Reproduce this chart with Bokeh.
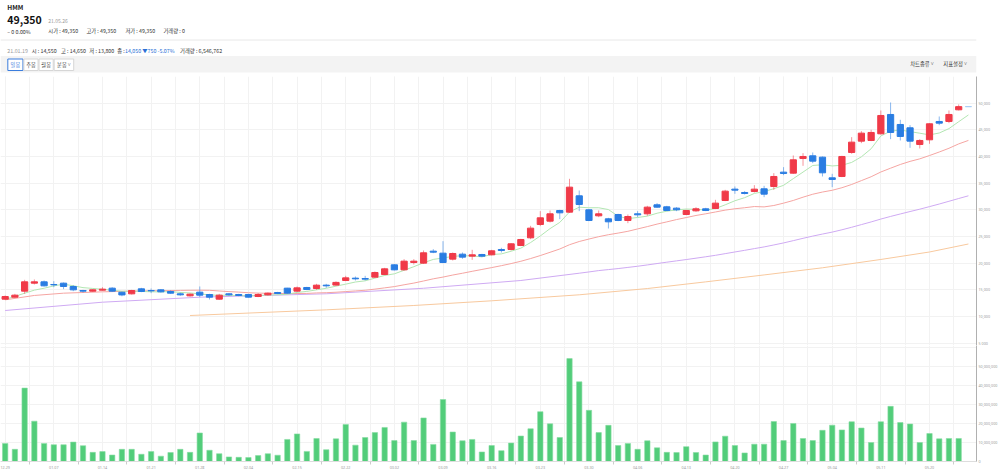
from bokeh.plotting import figure
from bokeh.layouts import column
from bokeh.models import Range1d, FixedTicker, NumeralTickFormatter, Label, Grid
from bokeh.embed import file_html
from bokeh.resources import INLINE
from bokeh.core.properties import value

# ---------------- data ----------------
opens = [13256, 13631, 14756, 16256, 16506, 16006, 16256, 15631, 14881, 14756,
         14944, 15319, 14550, 14256, 15194, 14881, 15006, 14694, 14256, 13881,
         14569, 14131, 13256, 14256, 14131, 14131, 13756, 14069, 14506, 15319,
         14756, 15444, 15256, 15881, 15900, 16756, 17194, 17131, 17381, 17881,
         19694, 18756, 20131, 20006, 22256, 21881, 20756, 21694, 21319, 21631,
         21569, 22569, 22569, 23319, 24756, 27256, 27881, 29881, 29569, 32631,
         30006, 28881, 28319, 29131, 28006, 29256, 29256, 30944, 30569, 30319,
         29131, 29819, 30194, 30256, 31756, 33881, 33256, 33444, 33944, 34381,
         37069, 36881, 39631, 40131, 39881, 36006, 36256, 40756, 42881, 43006,
         44256, 47881, 46006, 45381, 42256, 43131, 46569, 46569, 48756, 49350]
highs = [13944, 14256, 16881, 16944, 16756, 16631, 16381, 15881, 15006, 15131,
         15506, 15506, 14650, 15006, 15381, 15256, 15131, 14881, 14506, 14319,
         15631, 14256, 14256, 14381, 14256, 14256, 14381, 14506, 14631, 15381,
         15631, 15569, 16131, 16131, 16600, 17631, 17506, 17631, 18444, 19131,
         19819, 20756, 20756, 22381, 22631, 24131, 22006, 22006, 22506, 21756,
         22506, 22881, 23756, 24569, 27006, 29756, 29881, 30006, 35819, 33631,
         30131, 29881, 28506, 29256, 29131, 29756, 30756, 31256, 30756, 30506,
         30006, 30506, 30381, 31881, 33756, 34381, 33506, 34631, 34506, 36881,
         38006, 40194, 40631, 40756, 40006, 36756, 40131, 43631, 44756, 45006,
         48631, 50131, 46881, 45881, 43256, 46256, 47506, 48631, 49756, 49350]
lows = [13131, 13506, 14256, 16006, 15631, 15506, 15131, 14756, 14506, 14631,
        14881, 14631, 13800, 14131, 14569, 14381, 14506, 14256, 13881, 13756,
        13631, 13194, 13131, 13881, 13819, 13569, 13631, 13944, 14194, 14256,
        14631, 14944, 15006, 15381, 15800, 16631, 16756, 16756, 17256, 17756,
        18631, 18631, 19756, 19881, 21881, 20006, 20506, 20819, 20631, 21131,
        21444, 22006, 22381, 23194, 24506, 26944, 27631, 28256, 29444, 29756,
        27881, 28631, 26506, 27881, 27506, 28631, 28881, 30381, 29756, 29756,
        29006, 29631, 29756, 30131, 31631, 33006, 32881, 33256, 32381, 33756,
        36506, 36756, 38256, 38756, 36256, 34256, 36131, 40506, 42506, 42881,
        44131, 43256, 43006, 41631, 41506, 42381, 45881, 46256, 48631, 49350]
closes = [13756, 14006, 16506, 16506, 15756, 15944, 15631, 15006, 14756, 15006,
          15131, 14756, 14050, 14881, 14694, 14819, 14631, 14381, 14069, 14194,
          14006, 13631, 14006, 14069, 13944, 13631, 14131, 14381, 14319, 14381,
          15381, 15069, 15881, 15756, 16400, 17256, 17069, 17006, 18256, 18944,
          18756, 20381, 20381, 21944, 22069, 20131, 21819, 21131, 21569, 21319,
          22319, 22381, 23631, 24444, 26569, 28506, 29256, 29444, 34256, 31006,
          28006, 29256, 27756, 28006, 28756, 29069, 30506, 30506, 29881, 30006,
          29881, 30194, 29881, 31256, 33506, 33694, 33069, 33881, 32944, 36256,
          36819, 39381, 40006, 39131, 36944, 35694, 40006, 42694, 44381, 44506,
          47694, 44506, 43756, 42881, 43006, 46131, 46256, 47881, 49350, 49350]
volume_m = [9.5, 6.4, 38.6, 21.2, 9.5, 8.8, 8.8, 10.2, 8.3, 4.8,
            5.2, 3.4, 6.4, 6.4, 3.8, 5.2, 2.8, 4.7, 6.4, 4.8,
            15.0, 5.9, 4.1, 2.4, 2.2, 2.1, 3.1, 4.1, 3.3, 11.6,
            14.5, 5.3, 12.1, 6.2, 11.9, 19.5, 8.6, 12.6, 15.2, 17.9,
            11.0, 20.7, 11.0, 22.9, 9.0, 32.6, 15.5, 10.9, 11.6, 5.0,
            8.4, 5.7, 9.7, 13.4, 17.2, 26.2, 19.8, 12.6, 54.1, 41.9,
            26.9, 15.2, 19.0, 8.4, 9.5, 6.4, 10.9, 7.2, 4.8, 4.7,
            7.8, 4.7, 3.4, 10.3, 13.3, 8.4, 4.5, 9.1, 9.1, 21.0,
            11.0, 20.0, 12.1, 11.0, 16.4, 19.1, 16.6, 20.9, 17.6, 10.0,
            20.9, 29.0, 20.5, 19.7, 10.0, 14.7, 11.9, 12.1, 12.1, 0.0]

ma5 = [13194, 13780, 14370, 14950, 15306, 15744, 16069, 15769, 15419, 15269,
       15106, 14931, 14740, 14765, 14702, 14640, 14615, 14681, 14519, 14419,
       14256, 14056, 13981, 13981, 13931, 13856, 13956, 14031, 14081, 14169,
       14519, 14706, 15006, 15294, 15697, 16072, 16472, 16697, 17197, 17706,
       18006, 18669, 19344, 20081, 20706, 20981, 21269, 21419, 21344, 21194,
       21631, 21744, 22244, 22819, 23869, 25106, 26481, 27644, 29606, 30494,
       30394, 30394, 30056, 28806, 28356, 28569, 28819, 29369, 29744, 29994,
       30156, 30094, 29969, 30244, 30944, 31706, 32281, 33081, 33419, 33969,
       34594, 35856, 37081, 38319, 38456, 38231, 38356, 38894, 39944, 41456,
       43856, 44756, 44969, 44669, 44369, 44056, 44406, 45231, 46525, 47794]

ma20_x = [0, 3, 6, 10, 14, 18] + list(range(19, 100))
ma20 = [13131, 13950, 14380, 14630, 14800, 14900,
        14924, 14936, 14918, 14793, 14671, 14580, 14465, 14390, 14358, 14337,
        14305, 14318, 14333, 14425, 14469, 14554, 14676, 14798, 14929, 15138,
        15376, 15613, 15951, 16270, 16663, 17070, 17395, 17779, 18117, 18479,
        18826, 19173, 19538, 19926, 20360, 20869, 21431, 22041, 22663, 23463,
        24066, 24528, 24972, 25341, 25644, 25978, 26425, 26859, 27328, 27744,
        28178, 28556, 28947, 29259, 29600, 29947, 30206, 30397, 30619, 30553,
        30816, 31256, 31762, 32375, 32931, 33341, 33672, 34147, 34756, 35481,
        36206, 37097, 37812, 38506, 39087, 39562, 40184, 40844, 41544, 42364,
        43019]

ma60_x = [0, 10, 20, 33, 43, 53] + list(range(59, 100))
ma60 = [11131, 12688, 13625, 14263, 15300, 16756,
        18122, 18359, 18613, 18801, 18993, 19209, 19428, 19676, 19934, 20186,
        20436, 20682, 20940, 21203, 21476, 21790, 22104, 22412, 22737, 23051,
        23419, 23799, 24228, 24662, 25079, 25463, 25830, 26262, 26734, 27235,
        27737, 28275, 28766, 29230, 29683, 30126, 30607, 31094, 31608, 32126,
        32633]

ma120_x = [19, 33, 42, 50, 59, 66, 72, 78, 84, 90, 95, 99]
ma120 = [10194, 11256, 12069, 12950, 14075, 15250, 16500, 17800, 19138, 20700,
         22100, 23600]

tick_labels = ["12.29", "01.07", "01.14", "01.21", "01.28", "02.04", "02.15",
               "02.22", "03.02", "03.09", "03.16", "03.23", "03.30", "04.06",
               "04.13", "04.20", "04.27", "05.04", "05.11", "05.20"]

# ---------------- styling ----------------
KR = "Noto Sans CJK KR"
UP, DOWN, FLAT = "#f03a48", "#2a7de2", "#a9cdf5"
GRID = "#f2f2f2"
AXC = "#9a9a9a"
AXFONT = "3.7px"

N = len(closes)
xs = list(range(N))
colors = [UP if c > o else (DOWN if c < o else FLAT) for o, c in zip(opens, closes)]
tops = [max(o, c) for o, c in zip(opens, closes)]
bots = [min(o, c) for o, c in zip(opens, closes)]

# ---------------- header ----------------
ph = figure(width=1000, height=76, x_range=Range1d(0, 1000), y_range=Range1d(76, 0),
            output_backend="svg", toolbar_location=None, min_border=0,
            x_axis_location=None, y_axis_location=None)
ph.outline_line_color = None
ph.grid.visible = False


def txt(x, y, s, size="5.3px", color="#333333", style="normal", align="left"):
    ph.text(x=[x], y=[y], text=[s], text_font=value(KR), text_font_size=size,
            text_color=color, text_font_style=style, text_align=align,
            text_baseline="middle")


txt(7, 6.3, "HMM", size="6.5px", color="#222222", style="bold")
txt(7, 19.3, "49,350", size="10.5px", color="#111111", style="bold")
txt(49, 20, "21.05.26", size="5px", color="#9a9a9a")
txt(7, 31.5, "– 0  0.00%", size="5.3px", color="#333333")
txt(49, 30.5, "시가 : 49,350")
txt(88, 30.5, "고가 : 49,350")
txt(128, 30.5, "저가 : 49,350")
txt(167, 30.5, "거래량 : 0")
ph.segment(x0=[0], y0=[39.5], x1=[1000], y1=[39.5], line_color="#e8e8e8", line_width=1)
txt(7, 50, "21.01.19", color="#9a9a9a")
txt(32, 50, "시 : 14,550")
txt(62, 50, "고 : 14,650")
txt(91, 50, "저 : 13,800")
txt(119.5, 50, "종 :")
txt(127.5, 50, "14,050 ▼750 -5.07%", color="#2a6fd6")
txt(184, 50, "거래량 : 6,546,762")

ph.quad(left=[0], right=[1000], top=[55.5], bottom=[72], fill_color="#f3f3f3", line_color=None)
btns = [("일봉", 7.5, 23.0, True), ("주봉", 24.0, 38.5, False),
        ("월봉", 39.5, 54.0, False), ("분봉 ˅", 55.0, 75.0, False)]
for lab, l, r, sel in btns:
    ph.quad(left=[l], right=[r], top=[58.5], bottom=[70], fill_color="#ffffff",
            line_color="#3b7ddd" if sel else "#d6d6d6", line_width=1)
    txt((l + r) / 2, 64.3, lab, size="5.2px", color="#3b7ddd" if sel else "#444444",
        align="center")
txt(932, 63, "차트종류 ˅", size="5.3px", color="#333333")
txt(966, 63, "지표설정 ˅", size="5.3px", color="#333333")

# ---------------- price panel ----------------
xr = Range1d(-0.48, 99.83)
pp = figure(width=1000, height=269, x_range=xr, y_range=Range1d(4570, 55000),
            output_backend="svg", toolbar_location=None, y_axis_location="right",
            x_axis_location=None, min_border_left=0, min_border_right=20,
            min_border_top=0, min_border_bottom=0)
pp.outline_line_color = None
pp.add_layout(Grid(dimension=0, ticker=FixedTicker(ticks=[i * 2.5 for i in range(41)]),
                   grid_line_color=GRID))
pp.ygrid.ticker = FixedTicker(ticks=[5000 * k for k in range(1, 11)])
pp.ygrid.grid_line_color = GRID
ya = pp.yaxis[0]
ya.ticker = FixedTicker(ticks=[5000 * k for k in range(1, 11)])
ya.formatter = NumeralTickFormatter(format="0,0")
ya.major_label_text_font_size = AXFONT
ya.major_label_text_color = AXC
ya.major_label_text_font = "Noto Sans"
ya.major_label_standoff = 2
ya.major_tick_out = 0
ya.major_tick_in = 0
ya.minor_tick_out = 0
ya.minor_tick_in = 0
ya.axis_line_color = "#b0b0b0"

pp.line(ma120_x, ma120, line_color="#f8c99e", line_width=1)
pp.line(ma60_x, ma60, line_color="#cfaaf3", line_width=1)
pp.line(ma20_x, ma20, line_color="#f5a5a2", line_width=1)
pp.line(xs, ma5, line_color="#b2e6b2", line_width=1)

pp.segment(x0=xs, y0=lows, x1=xs, y1=highs, line_color=colors, line_alpha=0.55, line_width=1)
pp.vbar(x=xs, width=0.64, top=tops, bottom=bots, fill_color=colors, line_color=colors,
        line_width=1)
pp.add_layout(Label(x=100.2, y=54750, text="Linear", text_font_size="3.7px",
                    text_color="#888888", text_baseline="middle", text_font="Noto Sans"))

# ---------------- volume panel ----------------
vols = [v * 1e6 for v in volume_m]
pv = figure(width=1000, height=126, x_range=xr, y_range=Range1d(0, 61e6),
            output_backend="svg", toolbar_location=None, y_axis_location="right",
            min_border_left=0, min_border_right=20, min_border_top=0, min_border_bottom=0)
pv.outline_line_color = None
pv.vbar(x=xs, width=0.55, top=vols, bottom=0, fill_color="#52cd7a", line_color="#86dca3",
        line_width=0.6)
vy = pv.yaxis[0]
vy.ticker = FixedTicker(ticks=[1e7 * k for k in range(0, 6)])
vy.formatter = NumeralTickFormatter(format="0,0")
vy.major_label_text_font_size = AXFONT
vy.major_label_text_color = AXC
vy.major_label_text_font = "Noto Sans"
vy.major_label_standoff = 2
vy.major_tick_out = 0
vy.major_tick_in = 0
vy.minor_tick_out = 0
vy.minor_tick_in = 0
vy.axis_line_color = "#b0b0b0"
pv.ygrid.ticker = FixedTicker(ticks=[1e7 * k for k in range(1, 7)])
pv.ygrid.grid_line_color = GRID

tick_pos = [5 * i for i in range(len(tick_labels))]
vx = pv.xaxis[0]
vx.ticker = FixedTicker(ticks=tick_pos, minor_ticks=[p + 2.5 for p in tick_pos])
vx.major_label_overrides = {p: lab for p, lab in zip(tick_pos, tick_labels)}
vx.major_label_text_font_size = AXFONT
vx.major_label_text_color = AXC
vx.major_label_text_font = "Noto Sans"
vx.major_label_standoff = 1
vx.major_tick_out = 0
vx.major_tick_in = 0
vx.minor_tick_out = 3
vx.minor_tick_in = 0
vx.minor_tick_line_color = "#cccccc"
vx.axis_line_color = "#dddddd"
pv.xgrid.ticker = FixedTicker(ticks=[i * 2.5 for i in range(41)])
pv.xgrid.grid_line_color = GRID

layout = column(ph, pp, pv, spacing=0)
open("out.html", "w").write(file_html(layout, INLINE))
